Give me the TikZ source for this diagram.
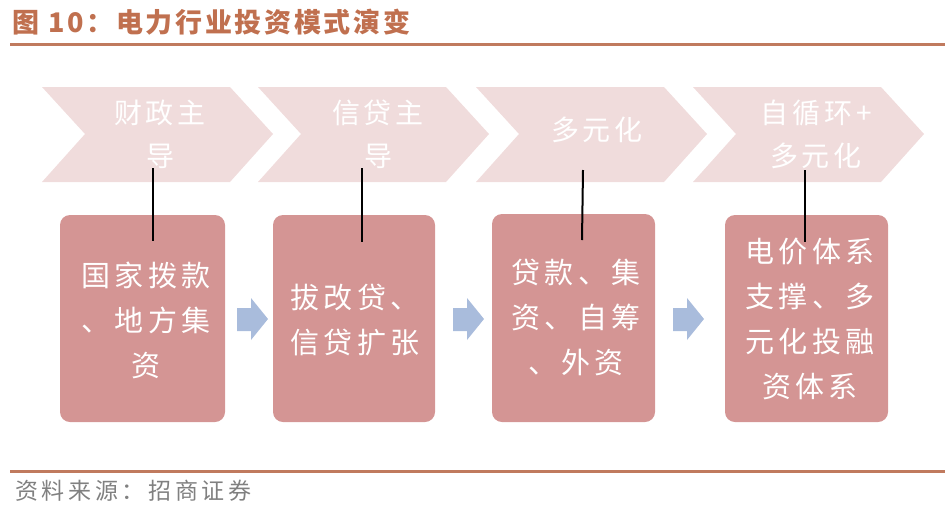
\documentclass[tikz,border=0pt]{standalone}
\usepackage{fontspec}
\setmainfont{Noto Sans CJK SC}
\newfontfamily\cjk{Noto Sans CJK SC}
\newfontfamily\cjkwide[LetterSpace=14]{Noto Sans CJK SC}
\newfontfamily\cjktitle[LetterSpace=10]{Noto Sans CJK SC}
\newfontfamily\cjkfoot[LetterSpace=16]{Noto Sans CJK SC}
\definecolor{titlec}{HTML}{C0704F}
\definecolor{rulec}{HTML}{C07A5E}
\definecolor{chevc}{HTML}{F0DCDC}
\definecolor{boxc}{HTML}{D49594}
\definecolor{arrc}{HTML}{A9BCDC}
\definecolor{footc}{HTML}{808080}
\tikzset{
  chevtext/.style={text=white, align=center, font=\cjkwide\fontsize{28}{43}\selectfont},
  boxtext/.style={text=white, align=center, font=\cjkwide\fontsize{29}{45}\selectfont},
  stagebox/.style={fill=boxc, rounded corners=10pt},
  linkline/.style={draw=black, line width=2pt},
  blockarrow/.style={fill=arrc},
}
\begin{document}
\begin{tikzpicture}[x=1pt,y=-1pt]
\useasboundingbox (0,0) rectangle (952,509);
% title
\node[anchor=west, text=titlec, font=\cjktitle\bfseries\fontsize{27}{30}\selectfont, inner sep=0] (title) at (12,22) {图 10：电力行业投资模式演变};
\draw[rulec, line width=3pt] (10,44) -- (945,44);
% chevrons
\foreach \i/\x in {1/42, 2/258, 3/476, 4/693} {
  \fill[chevc] (\x,87) -- (\x+188,87) -- (\x+231,134) -- (\x+188,182) -- (\x,182) -- (\x+43,134) -- cycle;
}
\node[chevtext] (c1) at (160,134) {财政主\\导};
\node[chevtext] (c2) at (378,134) {信贷主\\导};
\node[chevtext] (c3) at (597,130) {多元化};
\node[chevtext] (c4) at (816,134) {自循环+\\多元化};
% boxes
\fill[stagebox] (60,215) rectangle (225,422);
\fill[stagebox] (273,215) rectangle (435,422);
\fill[stagebox] (492,214) rectangle (655,422);
\fill[stagebox] (725,215) rectangle (888,422);
\node[boxtext] (b1) at (146,320) {国家拨款\\、地方集\\资};
\node[boxtext] (b2) at (355,320) {拔改贷、\\信贷扩张};
\node[boxtext] (b3) at (576,317) {贷款、集\\资、自筹\\、外资};
\node[boxtext] (b4) at (810,319) {电价体系\\支撑、多\\元化投融\\资体系};
% link lines
\coordinate (t1) at (153,168); \coordinate (u1) at (153,241);
\coordinate (t2) at (362,168); \coordinate (u2) at (362,242);
\coordinate (t3) at (583,170); \coordinate (u3) at (582,240);
\coordinate (t4) at (805,170); \coordinate (u4) at (805,242);
\draw[linkline] (t1) -- (u1);
\draw[linkline] (t2) -- (u2);
\draw[linkline] (t3) -- (u3);
\draw[linkline] (t4) -- (u4);
% block arrows
\foreach \x in {237, 453, 673} {
  \fill[blockarrow] (\x,308) -- (\x+14,308) -- (\x+14,298) -- (\x+31,319) -- (\x+14,340) -- (\x+14,331) -- (\x,331) -- cycle;
}
% bottom rule and source
\draw[rulec, line width=3pt] (10,471) -- (945,471);
\node[anchor=west, text=footc, font=\cjkfoot\fontsize{23}{25}\selectfont, inner sep=0] (src) at (15,491) {资料来源：招商证券};
\end{tikzpicture}
\end{document}
